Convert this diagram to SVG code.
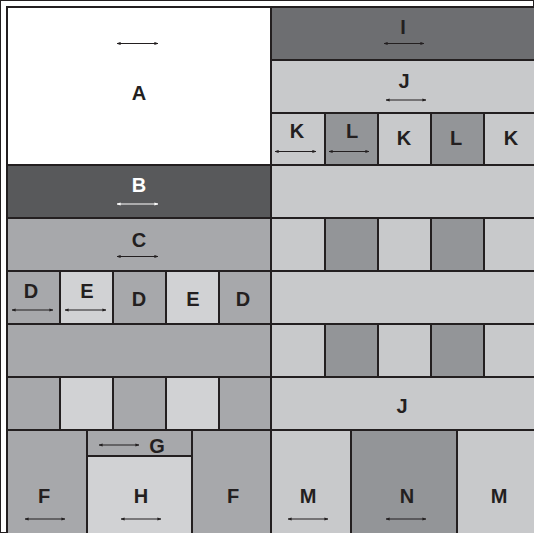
<svg xmlns="http://www.w3.org/2000/svg" width="534" height="533" viewBox="0 0 534 533">
<defs>
<style>
rect{stroke:#231f20;stroke-width:2}
.w{fill:#ffffff}.dk{fill:#58595b}.dk2{fill:#6d6e71}.lt{fill:#c8c9cb}.md{fill:#a7a8ab}.pl{fill:#d1d2d4}.gm{fill:#939598}
text{font-family:"Liberation Sans",Arial,sans-serif;font-weight:bold;font-size:20px;fill:#231f20;text-anchor:middle}
.wt{fill:#ffffff}
.ar{stroke:#231f20;stroke-width:1.2;fill:none;marker-start:url(#ah);marker-end:url(#ah)}
.aw{stroke:#ffffff;stroke-width:1.2;fill:none;marker-start:url(#ahw);marker-end:url(#ahw)}
</style>
<marker id="ah" viewBox="0 0 10 10" refX="9" refY="5" markerWidth="4" markerHeight="4" orient="auto-start-reverse" markerUnits="userSpaceOnUse"><path d="M0,1 L10,5 L0,9 Z" fill="#231f20"/></marker>
<marker id="ahw" viewBox="0 0 10 10" refX="9" refY="5" markerWidth="4" markerHeight="4" orient="auto-start-reverse" markerUnits="userSpaceOnUse"><path d="M0,1 L10,5 L0,9 Z" fill="#ffffff"/></marker>
</defs>
<rect x="0" y="0" width="534" height="533" fill="#ffffff" stroke="none"/>
<!-- left column -->
<g id="A"><rect class="w" x="7" y="7" width="264" height="158"/><text x="139" y="100">A</text></g>
<g id="B"><rect class="dk" x="7" y="165" width="264" height="53"/><text class="wt" x="139" y="192">B</text></g>
<g id="C"><rect class="md" x="7" y="218" width="264" height="53"/><text x="139" y="247">C</text></g>
<g id="row-DE">
<rect class="md" x="7" y="271" width="53" height="53"/><text x="31" y="298">D</text>
<rect class="pl" x="60" y="271" width="53" height="53"/><text x="87" y="298">E</text>
<rect class="md" x="113" y="271" width="53" height="53"/><text x="139" y="306">D</text>
<rect class="pl" x="166" y="271" width="53" height="53"/><text x="193" y="306">E</text>
<rect class="md" x="219" y="271" width="52" height="53"/><text x="243" y="306">D</text>
</g>
<g id="left-band"><rect class="md" x="7" y="324" width="264" height="53"/></g>
<g id="left-checker">
<rect class="md" x="7" y="377" width="53" height="53"/>
<rect class="pl" x="60" y="377" width="53" height="53"/>
<rect class="md" x="113" y="377" width="53" height="53"/>
<rect class="pl" x="166" y="377" width="53" height="53"/>
<rect class="md" x="219" y="377" width="52" height="53"/>
</g>
<g id="F1"><rect class="md" x="7" y="430" width="80" height="106"/><text x="44" y="503">F</text></g>
<g id="G"><rect class="md" x="87" y="430" width="105" height="26"/><text x="157" y="453">G</text></g>
<g id="H"><rect class="pl" x="87" y="456" width="105" height="80"/><text x="141" y="503">H</text></g>
<g id="F2"><rect class="md" x="192" y="430" width="79" height="106"/><text x="233" y="503">F</text></g>
<!-- right column -->
<g id="I"><rect class="dk2" x="271" y="7" width="266" height="53"/><text x="403" y="34">I</text></g>
<g id="J1"><rect class="lt" x="271" y="60" width="266" height="53"/><text x="404" y="88">J</text></g>
<g id="row-KL">
<rect class="lt" x="271" y="113" width="54" height="52"/><text x="297" y="138">K</text>
<rect class="gm" x="325" y="113" width="53" height="52"/><text x="352" y="138">L</text>
<rect class="lt" x="378" y="113" width="53" height="52"/><text x="404" y="145">K</text>
<rect class="gm" x="431" y="113" width="53" height="52"/><text x="456" y="145">L</text>
<rect class="lt" x="484" y="113" width="53" height="52"/><text x="511" y="145">K</text>
</g>
<g id="right-band1"><rect class="lt" x="271" y="165" width="266" height="53"/></g>
<g id="right-checker1">
<rect class="lt" x="271" y="218" width="54" height="53"/>
<rect class="gm" x="325" y="218" width="53" height="53"/>
<rect class="lt" x="378" y="218" width="53" height="53"/>
<rect class="gm" x="431" y="218" width="53" height="53"/>
<rect class="lt" x="484" y="218" width="53" height="53"/>
</g>
<g id="right-band2"><rect class="lt" x="271" y="271" width="266" height="53"/></g>
<g id="right-checker2">
<rect class="lt" x="271" y="324" width="54" height="53"/>
<rect class="gm" x="325" y="324" width="53" height="53"/>
<rect class="lt" x="378" y="324" width="53" height="53"/>
<rect class="gm" x="431" y="324" width="53" height="53"/>
<rect class="lt" x="484" y="324" width="53" height="53"/>
</g>
<g id="J2"><rect class="lt" x="271" y="377" width="266" height="53"/><text x="402" y="413">J</text></g>
<g id="M1"><rect class="lt" x="271" y="430" width="80" height="106"/><text x="308" y="503">M</text></g>
<g id="N"><rect class="gm" x="351" y="430" width="106" height="106"/><text x="407" y="503">N</text></g>
<g id="M2"><rect class="lt" x="457" y="430" width="80" height="106"/><text x="499" y="503">M</text></g>
<!-- connectors: dimension arrows -->
<g id="connectors">
<line class="ar" x1="117" y1="43.5" x2="158" y2="43.5"/>
<line class="aw" x1="117" y1="204" x2="158" y2="204"/>
<line class="ar" x1="117" y1="256.5" x2="158" y2="256.5"/>
<line class="ar" x1="12" y1="310" x2="53" y2="310"/>
<line class="ar" x1="65" y1="310" x2="106" y2="310"/>
<line class="ar" x1="99" y1="445" x2="139" y2="445"/>
<line class="ar" x1="25" y1="519" x2="65" y2="519"/>
<line class="ar" x1="121" y1="519" x2="161" y2="519"/>
<line class="ar" x1="384" y1="43.5" x2="424" y2="43.5"/>
<line class="ar" x1="386" y1="100" x2="426" y2="100"/>
<line class="ar" x1="275" y1="151.5" x2="316" y2="151.5"/>
<line class="ar" x1="329" y1="151.5" x2="369" y2="151.5"/>
<line class="ar" x1="288" y1="519" x2="328" y2="519"/>
<line class="ar" x1="386" y1="519" x2="426" y2="519"/>
</g>
</svg>
